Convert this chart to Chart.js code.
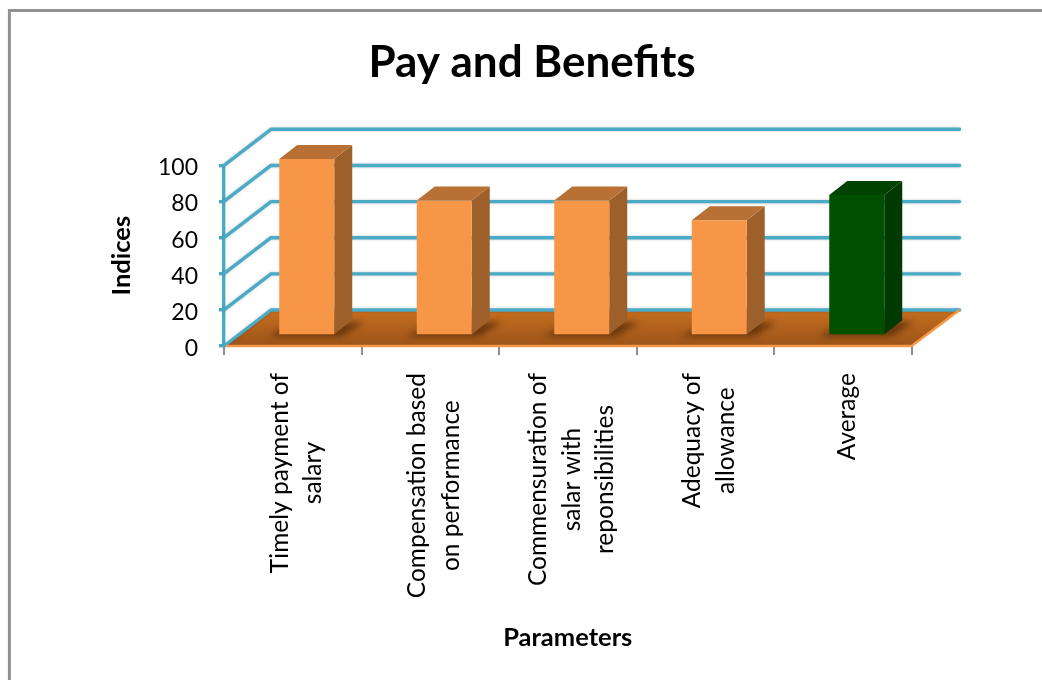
<!doctype html>
<html>
  <head>
    <meta charset="utf-8" />
    <script src="https://cdn.jsdelivr.net/npm/chart.js"></script>
    <style>
      html,
      body {
        margin: 0;
        background: #fff;
        overflow: hidden;
      }
      canvas {
        display: block;
      }
    </style>
  </head>
  <body>
    <canvas id="payChart" width="1042" height="680"></canvas>
    <script>
      // category names, one entry per printed line
      const categories = [
        ["Timely payment of", "salary"],
        ["Compensation based", "on performance"],
        ["Commensuration of", "salar with", "reponsibilities"],
        ["Adequacy of", "allowance"],
        ["Average"],
      ];
      const indices = [98, 75, 75, 64, 78];
      const yTicks = [0, 20, 40, 60, 80, 100];

      const frontColors = ["#f79646", "#f79646", "#f79646", "#f79646", "#005000"];
      const sideColors = ["#9e602b", "#9e602b", "#9e602b", "#9e602b", "#003a00"];
      const topColors = ["#b97034", "#b97034", "#b97034", "#b97034", "#004200"];

      const TEAL = "#4aabc6";
      const FONT = "Lato";
      const WALL_DX = 47; // how far the back wall sits behind the axes
      const WALL_DY = -36;
      const BAR_DX = 14; // bars stand a little way back on the floor
      const BAR_DY = -10;
      const BAR_DEPTH_X = 18;
      const BAR_DEPTH_Y = -14;

      function poly(ctx, pts, fill) {
        ctx.beginPath();
        pts.forEach((p, i) => (i ? ctx.lineTo(p[0], p[1]) : ctx.moveTo(p[0], p[1])));
        ctx.closePath();
        ctx.fillStyle = fill;
        ctx.fill();
      }

      const depthPlugin = {
        id: "depth",
        afterLayout(chart) {
          // title is centred a bit right of the canvas middle
          chart.titleBlock.left = 0;
          chart.titleBlock.right = 1064;
        },
        beforeDraw(chart) {
          // outer chart frame runs off the right and bottom edges
          const ctx = chart.ctx;
          ctx.save();
          ctx.strokeStyle = "#929292";
          ctx.lineWidth = 3;
          ctx.strokeRect(9.4, 10.5, 1100, 800);
          ctx.restore();
        },
        beforeDatasetsDraw(chart) {
          const ctx = chart.ctx;
          const { left, right, bottom } = chart.chartArea;
          const y = chart.scales.y;
          ctx.save();

          // floor
          const floor = ctx.createLinearGradient(0, bottom + WALL_DY, 0, bottom);
          floor.addColorStop(0, "#c76e20");
          floor.addColorStop(1, "#9b5418");
          poly(ctx, [
            [left, bottom],
            [right, bottom],
            [right + WALL_DX + 1, bottom + WALL_DY],
            [left + WALL_DX, bottom + WALL_DY],
          ], floor);

          // wall grid lines, one per tick
          ctx.strokeStyle = TEAL;
          ctx.lineWidth = 3.4;
          ctx.lineCap = "round";
          ctx.lineJoin = "round";
          ctx.shadowColor = "rgba(0, 0, 0, 0.22)";
          ctx.shadowBlur = 3;
          yTicks.forEach((v) => {
            const py = y.getPixelForValue(v);
            ctx.beginPath();
            ctx.moveTo(left, py);
            ctx.lineTo(left + WALL_DX, py + WALL_DY);
            ctx.lineTo(right + WALL_DX + 1, py + WALL_DY);
            ctx.stroke();
          });
          ctx.shadowColor = "transparent";
          ctx.shadowBlur = 0;

          // front and right edges of the floor
          ctx.strokeStyle = "#f79646";
          ctx.lineWidth = 2.5;
          ctx.lineCap = "butt";
          ctx.beginPath();
          ctx.moveTo(left + 2, bottom);
          ctx.lineTo(right, bottom);
          ctx.lineTo(right + WALL_DX + 1, bottom + WALL_DY);
          ctx.stroke();

          // soft shadow under each bar
          ctx.filter = "blur(3px)";
          chart.getDatasetMeta(0).data.forEach((bar) => {
            const x0 = bar.x - bar.width / 2 + BAR_DX;
            const x1 = bar.x + bar.width / 2 + BAR_DX;
            const b = bar.base + BAR_DY;
            poly(ctx, [
              [x0 - 11, b + 2],
              [x1 + 7, b + 2],
              [x1 + 30, b - 12],
              [x0 + 18, b - 12],
            ], "rgba(60, 28, 4, 0.6)");
          });
          ctx.restore();
        },
        beforeDatasetDraw(chart) {
          const ctx = chart.ctx;
          ctx.save();
          ctx.translate(BAR_DX, BAR_DY);
          chart.getDatasetMeta(0).data.forEach((bar, i) => {
            const x0 = bar.x - bar.width / 2;
            const x1 = bar.x + bar.width / 2;
            poly(ctx, [
              [x1, bar.y],
              [x1 + BAR_DEPTH_X, bar.y + BAR_DEPTH_Y],
              [x1 + BAR_DEPTH_X, bar.base + BAR_DEPTH_Y],
              [x1, bar.base],
            ], sideColors[i]);
            poly(ctx, [
              [x0, bar.y],
              [x0 + BAR_DEPTH_X, bar.y + BAR_DEPTH_Y],
              [x1 + BAR_DEPTH_X, bar.y + BAR_DEPTH_Y],
              [x1, bar.y],
            ], topColors[i]);
          });
        },
        afterDatasetDraw(chart) {
          chart.ctx.restore();
        },
        afterDraw(chart) {
          // rotated category labels, lines centred on each other
          const ctx = chart.ctx;
          const x = chart.scales.x;
          ctx.save();
          ctx.font = "24.5px " + FONT;
          ctx.fillStyle = "#000";
          ctx.textAlign = "center";
          ctx.textBaseline = "middle";
          categories.forEach((lines, i) => {
            const longest = Math.max(...lines.map((l) => ctx.measureText(l).width));
            const cx = x.getPixelForTick(i) + 4;
            const cy = x.top + 27 + longest / 2;
            lines.forEach((line, n) => {
              ctx.save();
              ctx.translate(cx + (n - (lines.length - 1) / 2) * 33.5, cy);
              ctx.rotate(-Math.PI / 2);
              ctx.fillText(line, 0, 0);
              ctx.restore();
            });
          });
          ctx.restore();
        },
      };

      new Chart(document.getElementById("payChart"), {
        type: "bar",
        data: {
          labels: categories,
          datasets: [
            {
              data: indices,
              backgroundColor: frontColors,
              clip: false,
              categoryPercentage: 1,
              barPercentage: 0.4,
            },
          ],
        },
        options: {
          responsive: false,
          animation: false,
          layout: { padding: { left: 0, top: 0, right: 130.5, bottom: 0 } },
          plugins: {
            legend: { display: false },
            tooltip: { enabled: false },
            title: {
              display: true,
              text: "Pay and Benefits",
              color: "#000",
              font: { family: FONT, size: 44, weight: "bold" },
              padding: { top: 36.6, bottom: 75.9 },
            },
          },
          scales: {
            x: {
              afterFit(scale) {
                scale.height = 334;
              },
              border: { display: false },
              grid: {
                drawOnChartArea: false,
                color: "#8d8d8d",
                lineWidth: 2,
                tickLength: 9,
              },
              ticks: { display: false },
              title: {
                display: true,
                text: "Parameters",
                color: "#000",
                font: { family: FONT, size: 25.5, weight: "bold" },
                padding: { bottom: 26.7 },
              },
            },
            y: {
              min: 0,
              max: 100,
              afterFit(scale) {
                scale.width = 224;
              },
              afterBuildTicks(scale) {
                scale.ticks = yTicks.map((v) => ({ value: v }));
              },
              border: { color: TEAL, width: 3.4 },
              grid: {
                drawOnChartArea: false,
                color: TEAL,
                lineWidth: 3.4,
                tickLength: 5,
              },
              ticks: {
                color: "#000",
                padding: 21,
                labelOffset: 2.5,
                font: { family: FONT, size: 23 },
              },
              title: {
                display: true,
                text: "Indices",
                color: "#000",
                font: { family: FONT, size: 25.5, weight: "bold" },
                padding: { top: 106.7 },
              },
            },
          },
        },
        plugins: [depthPlugin],
      });
    </script>
  </body>
</html>
